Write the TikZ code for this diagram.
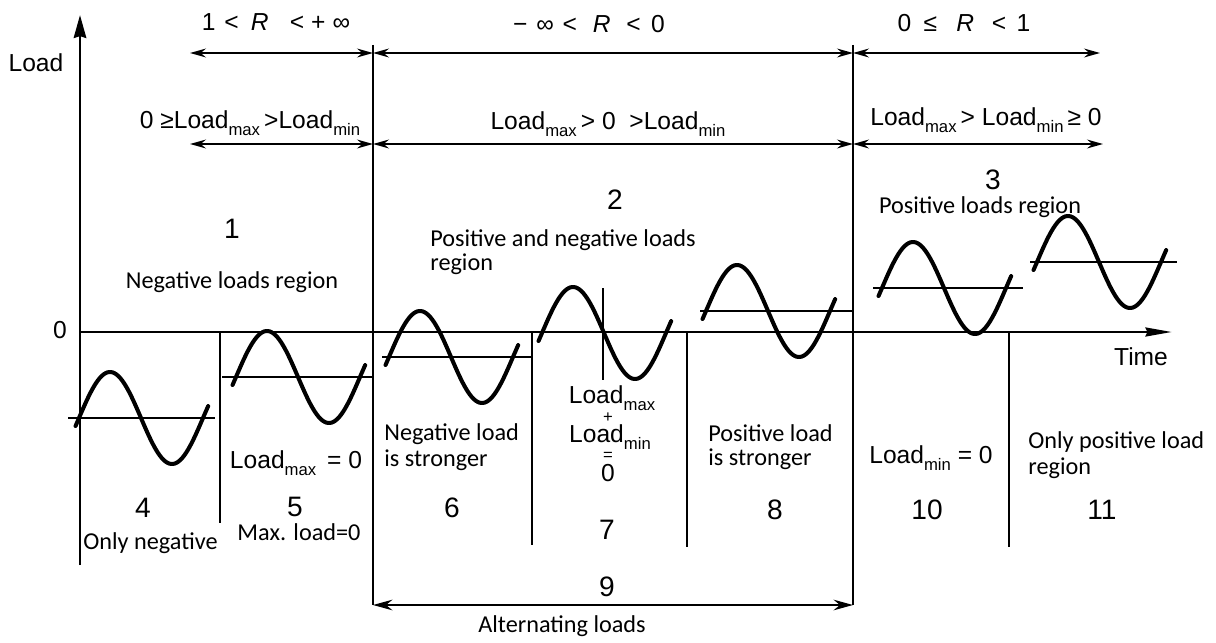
\documentclass[tikz,border=0pt]{standalone}
\usepackage{fontspec}
\setmainfont{Liberation Sans}
\newfontfamily\carl{Carlito}
\usetikzlibrary{arrows.meta}
\newcommand\sbs[1]{\raisebox{-0.5ex}{\fontsize{9.5}{10}\selectfont #1}}
\newcommand\sinewave[2]{%
  \draw[wave] plot[domain=-10:375,samples=80,smooth] ({#1+\x/360*124},{#2-46*sin(\x)});}
\begin{document}
\begin{tikzpicture}[x=0.02cm,y=-0.02cm,
  lbl/.style={font=\fontsize{14}{16}\selectfont, inner sep=0pt},
  small/.style={font=\fontsize{9.5}{10}\selectfont, inner sep=0pt},
  num/.style={font=\fontsize{16}{18}\selectfont, inner sep=0pt},
  note/.style={font=\carl\fontsize{13.8}{16}\selectfont, inner sep=0pt},
  axis/.style={line width=1.7pt},
  sep/.style={line width=1.4pt},
  dim/.style={line width=1.3pt,{Stealth[length=9pt,width=5pt]}-{Stealth[length=9pt,width=5pt]}},
  meanline/.style={line width=1.4pt},
  wave/.style={line width=2.3pt,line cap=round}]
\useasboundingbox (0,0) rectangle (1216,642);
% axes
\coordinate (O) at (80,332);
\coordinate (Ytop) at (80,15);
\coordinate (Ybot) at (80,565);
\coordinate (Xend) at (1172,332);
\draw[axis,-{Stealth[length=13pt,width=7pt,inset=1pt]}] (Ybot) -- (Ytop);
\draw[axis,-{Stealth[length=15pt,width=5pt,inset=1pt]}] (O) -- (Xend);
\node[lbl] (loadlbl) at (36,63) {Load};
\node[lbl] (zerolbl) at (60,330) {0};
\node[lbl] (timelbl) at (1141,357) {Time};
% main separators
\coordinate (v1t) at (373,45); \coordinate (v1b) at (373,605);
\coordinate (v2t) at (853,45); \coordinate (v2b) at (853,605);
\draw[sep] (v1t) -- (v1b);
\draw[sep] (v2t) -- (v2b);
% sub separators
\coordinate (s1t) at (220,332); \coordinate (s1b) at (220,523);
\coordinate (s2t) at (532,332); \coordinate (s2b) at (532,545);
\coordinate (s3t) at (687,332); \coordinate (s3b) at (687,547);
\coordinate (s4t) at (1009,332); \coordinate (s4b) at (1009,547);
\draw[sep] (s1t) -- (s1b);
\draw[sep] (s2t) -- (s2b);
\draw[sep] (s3t) -- (s3b);
\draw[sep] (s4t) -- (s4b);
% dimension arrows row 1
\coordinate (r1a) at (190,53); \coordinate (r1b) at (373,53);
\coordinate (r1c) at (853,53); \coordinate (r1d) at (1100,53);
\draw[dim] (r1a) -- (r1b);
\draw[dim] (r1b) -- (r1c);
\draw[dim] (r1c) -- (r1d);
% row 2
\coordinate (r2a) at (190,144); \coordinate (r2b) at (373,144);
\coordinate (r2c) at (853,144); \coordinate (r2d) at (1103,144);
\draw[dim] (r2a) -- (r2b);
\draw[dim] (r2b) -- (r2c);
\draw[dim] (r2c) -- (r2d);
% bottom
\coordinate (b9a) at (373,605); \coordinate (b9b) at (853,605);
\draw[dim,{Stealth[length=11pt,width=6pt]}-{Stealth[length=11pt,width=6pt]}] (b9a) -- (b9b);
% top labels
\node[lbl] (R1) at (276,22) {1\hspace{5pt}<\hspace{7pt}\textit{R}\hspace{12pt}<\hspace{4pt}+\hspace{4pt}∞};
\node[lbl] (R2) at (589,24) {−\hspace{5pt}∞\hspace{5pt}<\hspace{9pt}\textit{R}\hspace{9pt}<\hspace{6pt}0};
\node[lbl] (R3) at (964,23) {0\hspace{7pt}≤\hspace{11pt}\textit{R}\hspace{10pt}<\hspace{6pt}1};
\node[lbl] (C1) at (250,123) {0 ≥Load\sbs{max}\,>Load\sbs{min}};
\node[lbl] (C2) at (608,124) {Load\sbs{max}\,> 0 \ >Load\sbs{min}};
\node[lbl] (C3) at (986,120) {Load\sbs{max}\,> Load\sbs{min}\,≥ 0};
% region numbers and notes
\node[num] (n1) at (232,229) {1};
\node[num] (n2) at (615,200) {2};
\node[num] (n3) at (993,180) {3};
\node[note] (t1) at (232,282) {Negative loads region};
\node[note,anchor=west] (t2a) at (430,240) {Positive and negative loads};
\node[note,anchor=west] (t2b) at (430,264) {region};
\node[note] (t3) at (980,207) {Positive loads region};
% waves
\draw[meanline] (68,418) -- (215,418);
\sinewave{79}{418}
\draw[meanline] (222,377) -- (373,377);
\sinewave{236}{377}
\draw[meanline] (382,357) -- (532,357);
\sinewave{389}{357}
\draw[meanline] (603,288) -- (603,380);
\sinewave{542}{333}
\draw[meanline] (700,311) -- (853,311);
\sinewave{706}{311}
\draw[meanline] (873,288) -- (1023,288);
\sinewave{882}{288}
\draw[meanline] (1030,262) -- (1177,262);
\sinewave{1037}{262}
% lower labels
\node[lbl] (L5) at (296,463) {Load\sbs{max} \,= 0};
\node[lbl] (L7a) at (612,398) {Load\sbs{max}};
\node[small] (L7b) at (608,418) {+};
\node[lbl] (L7c) at (610,437) {Load\sbs{min}};
\node[small] (L7d) at (608,456) {=};
\node[lbl] (L7e) at (608,473) {0};
\node[lbl] (L10) at (931,458) {Load\sbs{min} = 0};
\node[num] (n4) at (143,508) {4};
\node[num] (n5) at (295,507) {5};
\node[num] (n6) at (452,508) {6};
\node[num] (n7) at (607,530) {7};
\node[num] (n8) at (775,510) {8};
\node[num] (n9) at (607,587) {9};
\node[num] (n10) at (927,510) {10};
\node[num] (n11) at (1102,510) {11};
\node[note,anchor=west] (t4) at (83,543) {Only negative};
\node[note] (t5) at (299,532) {Max. load=0};
\node[note,anchor=west] (t6a) at (384,434) {Negative load};
\node[note,anchor=west] (t6b) at (384,460) {is stronger};
\node[note,anchor=west] (t8a) at (708,433) {Positive load};
\node[note,anchor=west] (t8b) at (708,459) {is stronger};
\node[note,anchor=west] (t11a) at (1028,442) {Only positive load};
\node[note,anchor=west] (t11b) at (1028,468) {region};
\node[note] (t9) at (562,626) {Alternating loads};
\end{tikzpicture}
\end{document}
